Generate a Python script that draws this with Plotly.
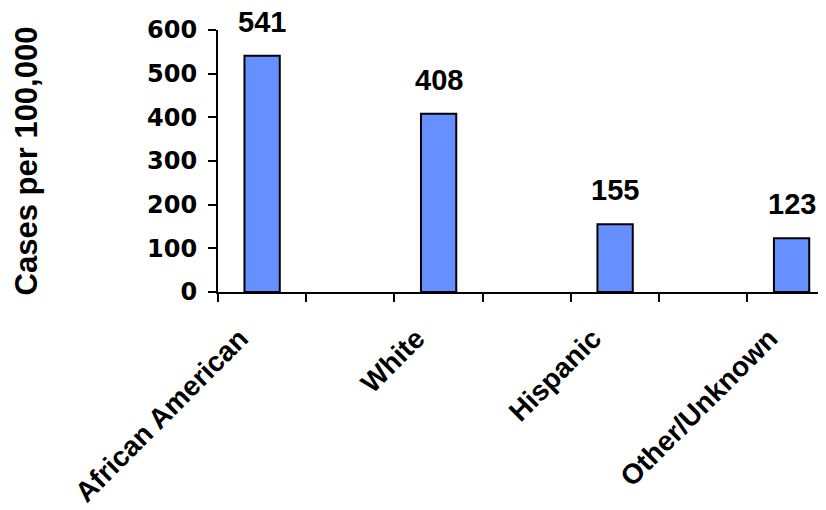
import plotly.graph_objects as go

categories = ["African American", "White", "Hispanic", "Other/Unknown"]
values = [541, 408, 155, 123]
y_ticks = [0, 100, 200, 300, 400, 500, 600]

FONT = "Liberation Sans, Arial, sans-serif"
WIDE_FONT = "DejaVu Sans, Liberation Sans, sans-serif"
BAR_COLOR = "#6690FF"

idx = list(range(len(categories)))
centers = [i - 0.25 for i in idx]
label_pos = [i - 0.375 for i in idx]
boundaries = [k * 0.5 - 0.5 for k in range(2 * len(categories) + 1)]

fig = go.Figure()
fig.add_trace(go.Bar(
    x=idx, y=values,
    width=0.2, offset=-0.35,
    marker=dict(color=BAR_COLOR, line=dict(color="black", width=2)),
    hoverinfo="skip",
))

for c, v in zip(centers, values):
    fig.add_annotation(
        x=c, y=v, text=str(v), showarrow=False,
        yanchor="bottom", yshift=16,
        font=dict(family=FONT, size=29, color="black", weight="bold"),
    )

# page body has an 8px margin, so the figure is sized to fit the 826x510 window
fig.update_layout(
    width=818, height=502,
    margin=dict(l=210, r=0, t=22, b=218, autoexpand=False),
    paper_bgcolor="white", plot_bgcolor="white",
    showlegend=False,
    font=dict(family=FONT, color="black"),
)
fig.update_xaxes(
    range=[-0.5, 2.945],
    tickmode="array", tickvals=label_pos, ticktext=categories,
    tickangle=-45, ticks="", ticklen=0, ticklabelstandoff=17,
    tickfont=dict(family=FONT, size=28, color="black", weight="bold"),
    showline=True, linecolor="black", linewidth=2,
    showgrid=False, zeroline=False, automargin=False,
    minor=dict(tickmode="array", tickvals=boundaries, ticks="outside",
               ticklen=8, tickwidth=2, tickcolor="black", showgrid=False),
)
fig.update_yaxes(
    range=[0, 600],
    tickmode="array", tickvals=y_ticks,
    ticks="outside", ticklen=8, tickwidth=2, tickcolor="black",
    tickfont=dict(family=WIDE_FONT, size=24, color="black", weight="bold"),
    ticklabelstandoff=6,
    showline=True, linecolor="black", linewidth=2,
    showgrid=False, zeroline=False, automargin=False,
    title=dict(text="Cases per 100,000",
               font=dict(family=FONT, size=31, color="black", weight="bold"),
               standoff=100),
)

fig.write_html("out.html")
